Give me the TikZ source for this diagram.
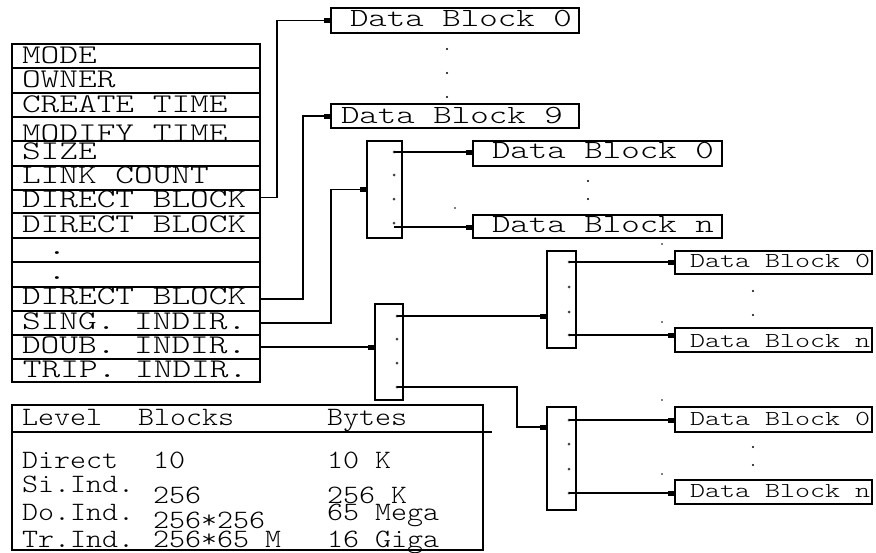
\documentclass[tikz,border=0pt]{standalone}
\usepackage{fontspec}
\usepackage{graphicx}
\usetikzlibrary{arrows.meta}
\newfontfamily\lmlight{Latin Modern Mono Light}
\newcommand{\mytx}[3]{\scalebox{#1}[#2]{\lmlight\fontsize{10}{10}\selectfont #3}}
\newcommand{\txI}[1]{\mytx{3.56}{2.7}{#1}}
\newcommand{\txB}[1]{\mytx{3.52}{2.62}{#1}}
\newcommand{\txT}[1]{\mytx{3.05}{2.65}{#1}}
\newcommand{\txR}[1]{\mytx{2.86}{2.13}{#1}}
\begin{document}
\begin{tikzpicture}[x=1pt,y=-1pt,line width=1.3pt,
  cell/.style={draw,rectangle,inner sep=0,outer sep=0,anchor=north west},
  lbl/.style={inner sep=0,outer sep=0,anchor=base west},
  arr/.style={-{Rectangle[length=7pt,width=5pt]}},
  dotm/.style={fill=black!75,draw=none,circle,inner sep=0,minimum size=3pt},
  tiny/.style={fill=black,draw=none,circle,inner sep=0,minimum size=1.6pt}]
\useasboundingbox (0,0) rectangle (876,552);
% inode rows
\node[cell,minimum width=248pt,minimum height=24pt] (r1) at (12,44) {};
\node[cell,minimum width=248pt,minimum height=25pt] (r2) at (12,68) {};
\node[cell,minimum width=248pt,minimum height=24pt] (r3) at (12,93) {};
\node[cell,minimum width=248pt,minimum height=24pt] (r4) at (12,117) {};
\node[cell,minimum width=248pt,minimum height=25pt] (r5) at (12,141) {};
\node[cell,minimum width=248pt,minimum height=24pt] (r6) at (12,166) {};
\node[cell,minimum width=248pt,minimum height=23pt] (r7) at (12,190) {};
\node[cell,minimum width=248pt,minimum height=25pt] (r8) at (12,213) {};
\node[cell,minimum width=248pt,minimum height=24pt] (r9) at (12,238) {};
\node[cell,minimum width=248pt,minimum height=25pt] (r10) at (12,262) {};
\node[cell,minimum width=248pt,minimum height=24pt] (r11) at (12,287) {};
\node[cell,minimum width=248pt,minimum height=24pt] (r12) at (12,311) {};
\node[cell,minimum width=248pt,minimum height=24pt] (r13) at (12,335) {};
\node[cell,minimum width=248pt,minimum height=23pt] (r14) at (12,359) {};
\node[lbl] (t1) at (22,63) {\txI{MODE}};
\node[lbl] (t2) at (22,87) {\txI{OWNER}};
\node[lbl] (t3) at (22,112) {\txI{CREATE TIME}};
\node[lbl] (t4) at (22,141) {\txI{MODIFY TIME}};
\node[lbl] (t5) at (22,159) {\txI{SIZE}};
\node[lbl] (t6) at (22,183) {\txI{LINK COUNT}};
\node[lbl] (t7) at (22,207) {\txI{DIRECT BLOCK}};
\node[lbl] (t8) at (22,232) {\txI{DIRECT BLOCK}};
\node[inner sep=0,anchor=base] (t9) at (57,254) {\txI{.}};
\node[inner sep=0,anchor=base] (t10) at (57,279) {\txI{.}};
\node[lbl] (t11) at (22,304) {\txI{DIRECT BLOCK}};
\node[lbl] (t12) at (22,329) {\txI{SING. INDIR.}};
\node[lbl] (t13) at (22,353) {\txI{DOUB. INDIR.}};
\node[lbl] (t14) at (23,377) {\txI{TRIP. INDIR.}};
% direct data blocks
\node[cell,minimum width=248pt,minimum height=25pt] (top0) at (331,8) {};
\node[lbl] (top0t) at (350,26) {\txB{Data Block 0}};
\node[cell,minimum width=248pt,minimum height=24pt] (top9) at (331,104) {};
\node[lbl] (top9t) at (341,123) {\txB{Data Block 9}};
\node[tiny,minimum size=2.4pt] (d1) at (447,49) {};
\node[tiny,minimum size=2.4pt] (d2) at (447,73) {};
\node[tiny,minimum size=2.4pt] (d3) at (447,97) {};
% single indirect
\node[cell,minimum width=35pt,minimum height=97pt] (S) at (367,141) {};
\node[dotm] (s1) at (394,152) {};
\node[dotm] (s2) at (394,175) {};
\node[dotm] (s3) at (394,199) {};
\node[dotm] (s4) at (394,223) {};
\coordinate (s4l) at (394,227);
\node[cell,minimum width=249pt,minimum height=25pt] (mid0) at (473,141) {};
\node[lbl] (mid0t) at (492,158) {\txB{Data Block 0}};
\node[cell,minimum width=249pt,minimum height=23pt] (midn) at (473,215) {};
\node[lbl] (midnt) at (492,232) {\txB{Data Block n}};
\node[tiny,minimum size=2.4pt] (m1) at (588,181) {};
\node[tiny,minimum size=2.4pt] (m2) at (588,199) {};
\node[tiny] (x1) at (455,208) {};
% double indirect
\node[cell,minimum width=28pt,minimum height=96pt] (A) at (375,304) {};
\node[dotm] (a1) at (397,316) {};
\node[dotm] (a2) at (397,339) {};
\node[dotm] (a3) at (397,363) {};
\node[dotm] (a4) at (397,387) {};
\node[cell,minimum width=29pt,minimum height=97pt] (B) at (547,251) {};
\node[dotm] (b1) at (569,262) {};
\node[dotm] (b2) at (569,287) {};
\node[dotm] (b3) at (569,312) {};
\node[dotm] (b4) at (569,335) {};
\node[cell,minimum width=29pt,minimum height=103pt] (C) at (547,407) {};
\node[dotm] (c1) at (569,420) {};
\node[dotm] (c2) at (569,444) {};
\node[dotm] (c3) at (569,469) {};
\node[dotm] (c4) at (569,493) {};
\coordinate (cin) at (547,427);
\node[cell,minimum width=197pt,minimum height=23pt] (q0) at (675,251) {};
\node[lbl] (q0t) at (690,267) {\txR{Data Block 0}};
\node[cell,minimum width=197pt,minimum height=24pt] (qn) at (675,328) {};
\node[lbl] (qnt) at (690,347) {\txR{Data Block n}};
\node[cell,minimum width=197pt,minimum height=25pt] (w0) at (675,407) {};
\node[lbl] (w0t) at (690,425) {\txR{Data Block 0}};
\node[cell,minimum width=197pt,minimum height=24pt] (wn) at (675,480) {};
\node[lbl] (wnt) at (690,497) {\txR{Data Block n}};
\node[tiny,minimum size=2.4pt] (e1) at (753,291) {};
\node[tiny,minimum size=2.4pt] (e2) at (753,315) {};
\node[tiny,minimum size=2.4pt] (e3) at (753,447) {};
\node[tiny,minimum size=2.4pt] (e4) at (753,465) {};
\node[tiny] (x2) at (662,244) {};
\node[tiny] (x3) at (662,322) {};
\node[tiny] (x4) at (662,400) {};
\node[tiny] (x5) at (662,474) {};
% connectors
\draw[arr] ([yshift=4pt]r7.east) -- ++(17,0) |- (top0.west);
\draw[arr] (r11.east) -- ++(43,0) |- (top9.west);
\draw[arr] (r12.east) -- ++(71,0) |- (S.west);
\draw[arr] (r13.east) -- (A.west |- r13.east);
\draw[arr,line width=1.1pt] (s1.center) -- (mid0.west |- s1.center);
\draw[arr,line width=1.1pt] (s4l) -- (midn.west |- s4l);
\draw[arr,line width=1.1pt] (a1.center) -- (B.west |- a1.center);
\draw[arr,line width=1.1pt] (a4.center) -- ++(120,0) |- (cin);
\draw[arr,line width=1.1pt] (b1.center) -- (q0.west |- b1.center);
\draw[arr,line width=1.1pt] (b4.center) -- (qn.west |- b4.center);
\draw[arr,line width=1.1pt] (c1.center) -- (w0.west |- c1.center);
\draw[arr,line width=1.1pt] (c4.center) -- (wn.west |- c4.center);
% table
\node[cell,minimum width=471pt,minimum height=145pt] (tab) at (12,405) {};
\coordinate (hl) at (492,432);
\draw (tab.west |- hl) -- (hl);
\node[tiny] (x6) at (348,432) {};
\node[lbl] (h1) at (22,425) {\txT{Level}};
\node[lbl] (h2) at (138,425) {\txT{Blocks}};
\node[lbl] (h3) at (327,425) {\txT{Bytes}};
\node[lbl] (l1) at (22,468) {\txT{Direct}};
\node[lbl] (v1) at (153,468) {\txT{10}};
\node[lbl] (y1) at (327,468) {\txT{10 K}};
\node[lbl] (l2) at (22,492) {\txT{Si.Ind.}};
\node[lbl] (v2) at (153,503) {\txT{256}};
\node[lbl] (y2) at (327,503) {\txT{256 K}};
\node[lbl] (l3) at (22,520) {\txT{Do.Ind.}};
\node[lbl] (v3) at (153,528) {\txT{256*256}};
\node[lbl] (y3) at (327,520) {\txT{65 Mega}};
\node[lbl] (l4) at (22,547) {\txT{Tr.Ind.}};
\node[lbl] (v4) at (153,547) {\txT{256*65 M}};
\node[lbl] (y4) at (327,547) {\txT{16 Giga}};
\end{tikzpicture}
\end{document}
